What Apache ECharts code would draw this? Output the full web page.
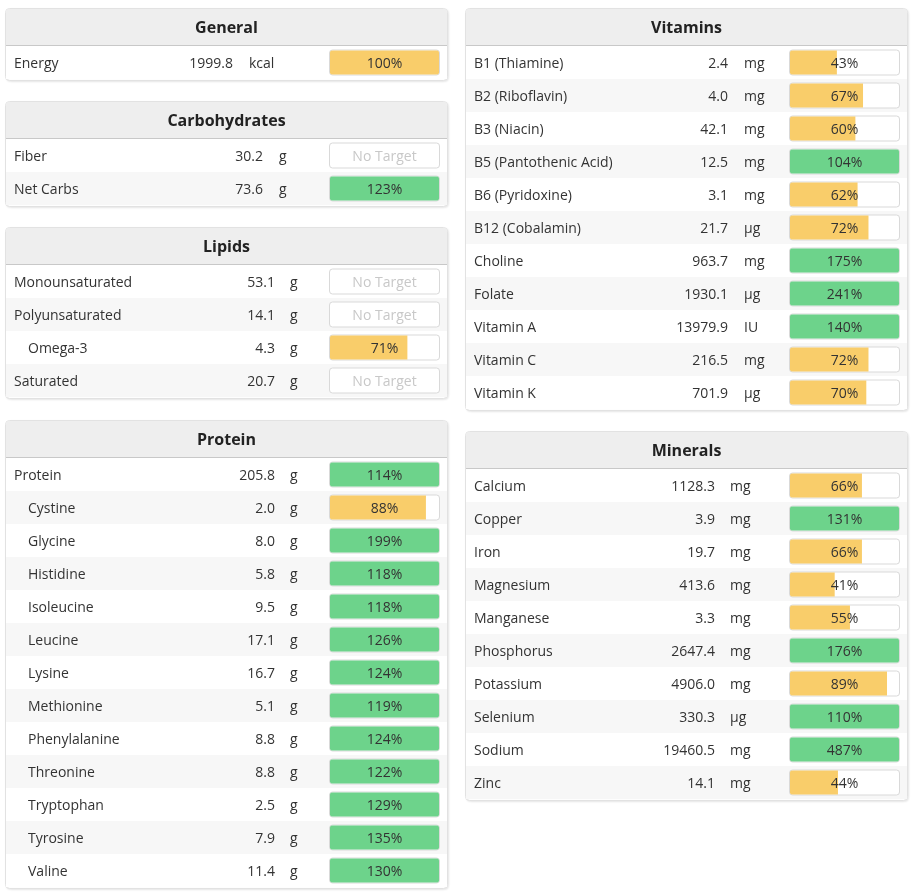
<!DOCTYPE html>
<html>
<head>
<meta charset="utf-8">
<script src="https://cdn.jsdelivr.net/npm/echarts@6/dist/echarts.min.js"></script>
<style>
html,body{margin:0;padding:0;background:#fff;}
#chart{width:918px;height:893px;}
</style>
</head>
<body>
<div id="chart"></div>
<script>
// ---- data ----
const generalNames = ['Energy'];
const generalValues = [1999.8];
const generalUnits = ['kcal'];
const generalPct = [100];
const generalIndent = [0];

const carbNames = ['Fiber', 'Net Carbs'];
const carbValues = [30.2, 73.6];
const carbUnits = ['g', 'g'];
const carbPct = [null, 123];
const carbIndent = [0, 0];

const lipidNames = ['Monounsaturated', 'Polyunsaturated', 'Omega-3', 'Saturated'];
const lipidValues = [53.1, 14.1, 4.3, 20.7];
const lipidUnits = ['g', 'g', 'g', 'g'];
const lipidPct = [null, null, 71, null];
const lipidIndent = [0, 0, 1, 0];

const proteinNames = ['Protein', 'Cystine', 'Glycine', 'Histidine', 'Isoleucine', 'Leucine', 'Lysine',
  'Methionine', 'Phenylalanine', 'Threonine', 'Tryptophan', 'Tyrosine', 'Valine'];
const proteinValues = [205.8, 2.0, 8.0, 5.8, 9.5, 17.1, 16.7, 5.1, 8.8, 8.8, 2.5, 7.9, 11.4];
const proteinUnits = ['g', 'g', 'g', 'g', 'g', 'g', 'g', 'g', 'g', 'g', 'g', 'g', 'g'];
const proteinPct = [114, 88, 199, 118, 118, 126, 124, 119, 124, 122, 129, 135, 130];
const proteinIndent = [0, 1, 1, 1, 1, 1, 1, 1, 1, 1, 1, 1, 1];

const vitaminNames = ['B1 (Thiamine)', 'B2 (Riboflavin)', 'B3 (Niacin)', 'B5 (Pantothenic Acid)', 'B6 (Pyridoxine)',
  'B12 (Cobalamin)', 'Choline', 'Folate', 'Vitamin A', 'Vitamin C', 'Vitamin K'];
const vitaminValues = [2.4, 4.0, 42.1, 12.5, 3.1, 21.7, 963.7, 1930.1, 13979.9, 216.5, 701.9];
const vitaminUnits = ['mg', 'mg', 'mg', 'mg', 'mg', 'µg', 'mg', 'µg', 'IU', 'mg', 'µg'];
const vitaminPct = [43, 67, 60, 104, 62, 72, 175, 241, 140, 72, 70];
const vitaminIndent = [0, 0, 0, 0, 0, 0, 0, 0, 0, 0, 0];

const mineralNames = ['Calcium', 'Copper', 'Iron', 'Magnesium', 'Manganese', 'Phosphorus', 'Potassium',
  'Selenium', 'Sodium', 'Zinc'];
const mineralValues = [1128.3, 3.9, 19.7, 413.6, 3.3, 2647.4, 4906.0, 330.3, 19460.5, 14.1];
const mineralUnits = ['mg', 'mg', 'mg', 'mg', 'mg', 'mg', 'mg', 'µg', 'mg', 'mg'];
const mineralPct = [66, 131, 66, 41, 55, 176, 89, 110, 487, 44];
const mineralIndent = [0, 0, 0, 0, 0, 0, 0, 0, 0, 0];

// ---- layout (positions / styles) ----
const ROW_H = 33, HEAD_H = 38, PANEL_W = 442;
const ORANGE = '#f9cd6a', GREEN = '#6dd38b';
const FONT = '"Open Sans", "Noto Sans", sans-serif';
const TEXT_DY = 1.5;

const panels = [
  { title: 'General', names: generalNames, values: generalValues, units: generalUnits, pct: generalPct, indent: generalIndent, x: 5, top: 8, valRight: 233, unitLeft: 249 },
  { title: 'Carbohydrates', names: carbNames, values: carbValues, units: carbUnits, pct: carbPct, indent: carbIndent, x: 5, top: 101, valRight: 263, unitLeft: 279 },
  { title: 'Lipids', names: lipidNames, values: lipidValues, units: lipidUnits, pct: lipidPct, indent: lipidIndent, x: 5, top: 227, valRight: 275, unitLeft: 290 },
  { title: 'Protein', names: proteinNames, values: proteinValues, units: proteinUnits, pct: proteinPct, indent: proteinIndent, x: 5, top: 420, valRight: 275, unitLeft: 290 },
  { title: 'Vitamins', names: vitaminNames, values: vitaminValues, units: vitaminUnits, pct: vitaminPct, indent: vitaminIndent, x: 465, top: 8, valRight: 728, unitLeft: 744 },
  { title: 'Minerals', names: mineralNames, values: mineralValues, units: mineralUnits, pct: mineralPct, indent: mineralIndent, x: 465, top: 431, valRight: 715, unitLeft: 730 }
];

const grids = [], xAxes = [], yAxes = [], series = [], graphics = [];

panels.forEach((P, i) => {
  const n = P.names.length;
  const rowsTop = P.top + HEAD_H;
  const panelH = HEAD_H + n * ROW_H + 1;

  // panel frame and header
  graphics.push({
    type: 'rect', z: 0,
    shape: { x: P.x + 0.5, y: P.top + 0.5, width: PANEL_W, height: panelH, r: 4 },
    style: { fill: '#fff', stroke: '#e2e2e2', lineWidth: 1, shadowBlur: 2, shadowOffsetY: 1, shadowOffsetX: 1, shadowColor: 'rgba(0,0,0,0.08)' }
  });
  graphics.push({
    type: 'rect', z: 1,
    shape: { x: P.x + 1, y: P.top + 1, width: PANEL_W - 1, height: HEAD_H - 2, r: [3, 3, 0, 0] },
    style: { fill: '#eeeeee' }
  });
  graphics.push({
    type: 'rect', z: 2,
    shape: { x: P.x + 1, y: rowsTop - 1, width: PANEL_W - 1, height: 1 },
    style: { fill: '#c8c8c8' }
  });
  graphics.push({
    type: 'text', z: 3,
    x: P.x + PANEL_W / 2 + 0.5, y: P.top + HEAD_H / 2 + 1,
    style: { text: P.title, fill: '#222', font: 'bold 16px ' + FONT, align: 'center', verticalAlign: 'middle' }
  });

  grids.push({ left: P.x + 325, top: rowsTop, width: 109, height: n * ROW_H, containLabel: false });
  xAxes.push({ type: 'value', gridIndex: i, min: 0, max: 100, show: false });
  yAxes.push({ type: 'category', gridIndex: i, data: P.names, inverse: true, show: false });

  const rowData = P.names.map((nm, k) => [0, k]);

  // stripes and target boxes
  series.push({
    type: 'custom', xAxisIndex: i, yAxisIndex: i, z: 1, silent: true, clip: false,
    data: rowData,
    renderItem: (params, api) => {
      const k = api.value(1);
      const c = api.coord([0, k]);
      const h = api.size([0, 1])[1];
      const x0 = api.coord([0, k])[0];
      const x1 = api.coord([100, k])[0];
      return {
        type: 'group',
        children: [
          { type: 'rect', shape: { x: P.x + 1, y: c[1] - h / 2, width: PANEL_W - 1, height: h },
            style: { fill: k % 2 === 1 ? '#f7f7f7' : '#ffffff' } },
          { type: 'rect', shape: { x: x0 - 0.5, y: c[1] - 13 + 0.5, width: x1 - x0 + 1, height: 25, r: 3 },
            style: { fill: '#ffffff', stroke: '#d9d9d9', lineWidth: 1 } }
        ]
      };
    }
  });

  // percentage fill bars
  series.push({
    type: 'bar', xAxisIndex: i, yAxisIndex: i, z: 3, silent: true, barWidth: 24,
    data: P.pct.map(v => v == null ? '-' : {
      value: Math.min(v, 100),
      itemStyle: { color: v > 100 ? GREEN : ORANGE, borderRadius: v >= 100 ? 2 : [2, 0, 0, 2] }
    })
  });

  // texts
  series.push({
    type: 'custom', xAxisIndex: i, yAxisIndex: i, z: 5, silent: true, clip: false,
    data: rowData,
    renderItem: (params, api) => {
      const k = api.value(1);
      const c = api.coord([0, k]);
      const cx = api.coord([50, k])[0];
      const pv = P.pct[k];
      const f = '14px ' + FONT;
      const ty = c[1] + TEXT_DY;
      return {
        type: 'group',
        children: [
          { type: 'text', style: { text: P.names[k], x: P.x + 9 + P.indent[k] * 14, y: ty, fill: '#333', font: f, align: 'left', verticalAlign: 'middle' } },
          { type: 'text', style: { text: P.values[k].toFixed(1), x: P.valRight, y: ty, fill: '#333', font: f, align: 'right', verticalAlign: 'middle' } },
          { type: 'text', style: { text: P.units[k], x: P.unitLeft, y: ty, fill: '#333', font: f, align: 'left', verticalAlign: 'middle' } },
          { type: 'text', style: { text: pv == null ? 'No Target' : pv + '%', x: cx, y: ty, fill: pv == null ? '#c8c8c8' : '#333', font: f, align: 'center', verticalAlign: 'middle' } }
        ]
      };
    }
  });
});

const chart = echarts.init(document.getElementById('chart'), null, { renderer: 'canvas' });
chart.setOption({
  backgroundColor: '#ffffff',
  animation: false,
  grid: grids,
  xAxis: xAxes,
  yAxis: yAxes,
  graphic: { elements: graphics },
  series: series
});
</script>
</body>
</html>
